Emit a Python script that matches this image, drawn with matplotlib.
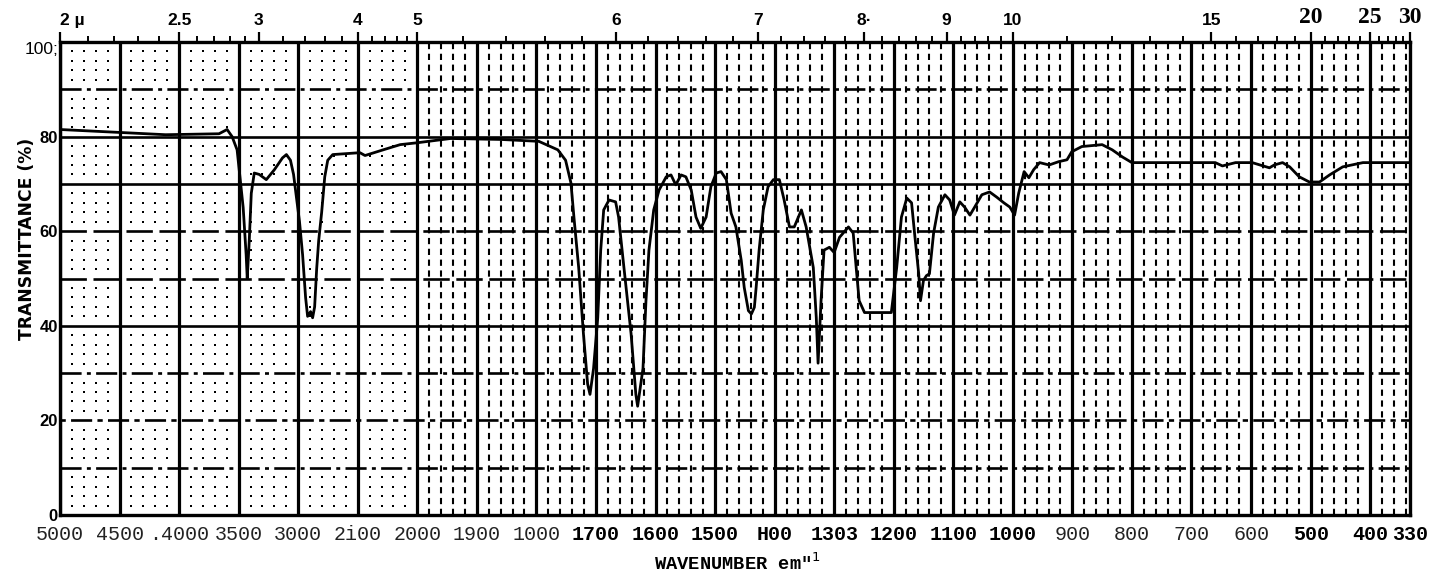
import numpy as np
import matplotlib
matplotlib.use("Agg")
import matplotlib.pyplot as plt

# ---------------- data ----------------
wavenumber = [5000, 4113, 3665, 3597, 3555, 3513, 3462, 3437, 3428, 3411, 3394, 3369,
              3327, 3268, 3200, 3132, 3099, 3065, 3039, 3014, 2989, 2963, 2938, 2921,
              2896, 2879, 2862, 2845, 2828, 2803, 2777, 2752, 2710, 2482, 2439, 2287,
              2144, 2000, 1944, 1860, 1796, 1764, 1751, 1742, 1737, 1729, 1721, 1714,
              1710, 1704, 1697, 1692, 1687, 1678, 1667, 1662, 1653, 1641, 1633, 1630,
              1621, 1616, 1611, 1603, 1594, 1582, 1574, 1566, 1557, 1549, 1540, 1532,
              1524, 1515, 1507, 1498, 1490, 1481, 1473, 1465, 1456, 1451, 1444, 1439,
              1434, 1431, 1426, 1419, 1411, 1402, 1392, 1384, 1375, 1367, 1355, 1347,
              1335, 1330, 1327, 1322, 1317, 1308, 1300, 1291, 1276, 1268, 1263, 1258,
              1249, 1204, 1195, 1187, 1178, 1170, 1165, 1158, 1155, 1150, 1145, 1140,
              1133, 1125, 1114, 1106, 1098, 1089, 1081, 1072, 1064, 1052, 1039, 1027,
              1015, 1005, 997, 990, 981, 973, 965, 955, 939, 923, 909, 901, 884, 850,
              833, 816, 800, 660, 648, 626, 598, 569, 561, 547, 535, 519, 502, 485,
              468, 446, 412, 333]
transmittance = [81.5, 80.4, 80.6, 81.5, 80.0, 77.2, 65.0, 55.0, 50.0, 58.0, 68.0, 72.3,
                 72.0, 70.9, 73.0, 75.5, 76.2, 75.0, 72.0, 67.0, 62.0, 55.0, 46.0, 42.0,
                 43.0, 41.7, 44.0, 52.0, 58.0, 64.0, 71.5, 75.0, 76.2, 76.6, 76.0, 77.2,
                 78.3, 78.7, 79.6, 79.4, 79.0, 77.2, 75.0, 70.2, 63.0, 52.3, 38.3, 27.7,
                 25.5, 31.0, 41.7, 56.0, 64.5, 66.6, 66.2, 63.0, 52.3, 38.3, 25.5, 23.0,
                 31.0, 45.3, 56.0, 64.5, 68.7, 71.5, 71.9, 69.8, 71.9, 71.5, 68.7, 63.0,
                 60.6, 63.0, 69.4, 72.3, 72.6, 70.9, 63.8, 60.9, 53.8, 48.1, 43.2, 42.5,
                 43.9, 48.1, 56.0, 64.5, 69.4, 70.9, 70.9, 66.6, 60.9, 60.9, 64.5, 60.9,
                 52.3, 41.7, 32.1, 45.3, 56.0, 56.6, 55.5, 58.7, 60.9, 59.6, 52.3, 45.3,
                 42.8, 42.8, 52.3, 63.0, 67.0, 66.0, 59.6, 51.0, 45.3, 49.6, 50.6, 51.0,
                 59.6, 65.1, 67.7, 66.6, 63.4, 66.2, 65.1, 63.4, 65.1, 67.7, 68.3, 67.2,
                 66.0, 65.1, 63.4, 68.1, 72.6, 71.3, 73.0, 74.5, 74.0, 74.7, 75.1, 76.8,
                 77.9, 78.3, 77.2, 75.7, 74.5, 74.5, 73.8, 74.5, 74.5, 73.4, 74.0, 74.5,
                 73.6, 71.5, 70.4, 70.4, 71.9, 73.6, 74.5, 74.5]

bottom_tick_wn = [5000, 4500, 4000, 3500, 3000, 2500, 2000, 1900, 1800, 1700, 1600,
                  1500, 1400, 1300, 1200, 1100, 1000, 900, 800, 700, 600, 500, 400, 333]
bottom_tick_labels = ["5000", "4500", ".4000", "3500", "3000", "2i00", "2000", "1900",
                      "1000", "1700", "1600", "1500", "H00", "1303", "1200", "1100",
                      "1000", "900", "800", "700", "600", "500", "400", "330"]
bottom_bold_index = [9, 10, 11, 12, 13, 14, 15, 16, 21, 22, 23]

top_major_um = [2, 2.5, 3, 4, 5, 6, 7, 8, 9, 10, 15, 20, 25, 30]
top_major_labels = ["2 µ", "2.5", "3", "4", "5", "6", "7", "8·", "9", "10", "15",
                    "20", "25", "30"]
top_serif_labels = ["20", "25", "30"]
top_minor_um = [2.1, 2.2, 2.3, 2.4, 2.6, 2.7, 2.8, 2.9, 3.2, 3.4, 3.6, 3.8,
                4.2, 4.4, 4.6, 4.8, 5.2, 5.4, 5.6, 5.8, 6.2, 6.4, 6.6, 6.8,
                7.2, 7.4, 7.6, 7.8, 8.2, 8.4, 8.6, 8.8, 9.2, 9.4, 9.6, 9.8,
                11, 12, 13, 14, 16, 17, 18, 19, 21, 22, 23, 24, 26, 27, 28, 29]

y_ticks = [0, 20, 40, 60, 80, 100]
y_tick_labels = ["0", "20", "40", "60", "80", "100;"]

x_label = 'WAVENUMBER em"$^{1}$'
y_label = "TRANSMITTANCE (%)"

# grid of the chart paper
major_grid_wn = [5000, 4500, 4000, 3500, 3000, 2500, 2000, 1900, 1800, 1700, 1600,
                 1500, 1400, 1300, 1200, 1100, 1000, 900, 800, 700, 600, 500, 400]
hline_levels = [10, 20, 30, 40, 50, 60, 70, 80, 90]


# ---------------- two-range wavenumber scale (increasing in wavenumber) ----------------
def fwd(w):
    w = np.asarray(w, dtype=float)
    return -np.where(w >= 2000, (5000.0 - w) / 5.0, 600.0 + (2000.0 - w))


def inv(v):
    u = -np.asarray(v, dtype=float)
    return np.where(u <= 600, 5000.0 - 5.0 * u, 2000.0 - (u - 600.0))


W, H = 1437, 576
fig = plt.figure(figsize=(W / 100, H / 100), dpi=100)
fig.patch.set_facecolor("white")
ax = fig.add_axes([60 / W, 61 / H, 1350 / W, 473 / H])
ax.set_xscale("function", functions=(fwd, inv))
ax.set_xlim(5000, 333)
ax.set_ylim(0, 100)

# minor vertical lines / dots
minor_left = [w for w in range(4900, 2000, -100) if w % 500 != 0]
minor_right = [w for w in range(1980, 333, -20) if w % 100 != 0]
dot_rows = [y for y in range(2, 100, 2) if y % 10 != 0]

xs, ys = np.meshgrid(minor_left, dot_rows)
ax.scatter(xs.ravel(), ys.ravel(), s=3.0, marker="s", color="black", lw=0, zorder=1)
ax.vlines(minor_right, 0, 100, colors="black", lw=1.5,
          linestyles=[(0, (3.0, 2.2))], zorder=1)

# horizontal lines
hstyles = {10: (0, (8, 2, 1.5, 2)), 20: (0, (2, 2, 8, 2)), 30: (0, (8, 2, 1.5, 2)),
           40: "solid", 50: (0, (10, 2.5)), 60: (0, (10, 2.5)), 70: "solid",
           80: "solid", 90: (0, (8, 2, 1.5, 2))}
for lev in hline_levels:
    ax.axhline(lev, color="black", lw=1.9, linestyle=hstyles[lev], zorder=2)

# major verticals
ax.vlines(major_grid_wn, 0, 100, colors="black", lw=2.3, zorder=2)

# spectrum
ax.plot(wavenumber, transmittance, color="black", lw=2.0, zorder=5,
        solid_joinstyle="round", solid_capstyle="round")

for sp in ax.spines.values():
    sp.set_linewidth(2.4)
    sp.set_zorder(6)

# bottom labels
ax.set_xticks(bottom_tick_wn, labels=bottom_tick_labels)
ax.xaxis.set_minor_locator(matplotlib.ticker.NullLocator())
ax.tick_params(axis="x", which="both", length=0, pad=7.5, labelsize=14.4)
for i, lab in enumerate(ax.get_xticklabels()):
    lab.set_fontfamily("Liberation Mono")
    lab.set_fontsize(14.4)
    lab.set_fontweight("bold" if i in bottom_bold_index else "normal")
    if i not in bottom_bold_index:
        lab.set_color("#222222")

# y labels
ax.set_yticks(y_ticks, labels=y_tick_labels)
ax.tick_params(axis="y", length=0, pad=1.5)
for lab in ax.get_yticklabels():
    if lab.get_text().startswith("100"):
        lab.set_fontfamily("Liberation Sans")
        lab.set_fontsize(12.5)
        lab.set_fontweight("normal")
        lab.set_va("top")
    else:
        lab.set_fontfamily("Liberation Sans")
        lab.set_fontsize(12)
        lab.set_fontweight("bold")

# top micron scale
ax2 = ax.twiny()
ax2.set_xscale("function", functions=(fwd, inv))
ax2.set_xlim(5000, 333)
ax2.set_xticks([1e4 / u for u in top_major_um], labels=top_major_labels)
ax2.set_xticks([1e4 / u for u in top_minor_um], minor=True)
ax2.tick_params(axis="x", which="major", length=7.5, width=1.6, direction="out", pad=2.5)
ax2.tick_params(axis="x", which="minor", length=4.5, width=1.4, direction="out")
for sp in ax2.spines.values():
    sp.set_visible(False)
for i, lab in enumerate(ax2.get_xticklabels()):
    if lab.get_text() in top_serif_labels:
        lab.set_fontfamily("Liberation Serif")
        lab.set_fontsize(17)
        lab.set_fontweight("bold")
    else:
        lab.set_fontfamily("Liberation Sans")
        lab.set_fontsize(12.5)
        lab.set_fontweight("bold")
    if i == 0:
        lab.set_ha("left")

# axis titles
fig.text(27 / W, 1 - 239 / H, y_label, rotation=90, ha="center", va="center",
         fontfamily="DejaVu Sans", fontweight="bold", fontsize=12.3)
fig.text(654 / W, 1 - 563 / H, x_label, ha="left", va="center",
         fontfamily="Liberation Mono", fontweight="bold", fontsize=13.5)

fig.savefig("out.png", dpi=100, facecolor="white")
